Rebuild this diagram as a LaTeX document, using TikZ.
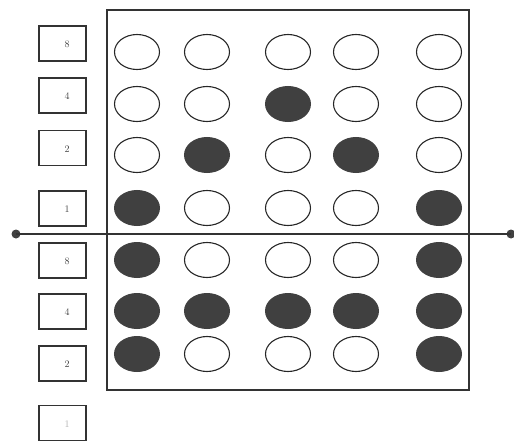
\documentclass[tikz,border=0pt]{standalone}
\usetikzlibrary{shapes.geometric}
\begin{document}
\begin{tikzpicture}[x=1pt,y=-1pt,
  lbox/.style={draw=black!80,line width=1.2pt,minimum width=47pt,minimum height=35pt,inner sep=0pt},
  ltxt/.style={font=\fontsize{10}{11}\selectfont,text=black!75},
  hole/.style={ellipse,draw=black!85,line width=1.1pt,minimum width=45pt,minimum height=35pt,inner sep=0pt,fill=white},
  punch/.style={ellipse,draw=black!75,line width=1pt,minimum width=45pt,minimum height=35pt,inner sep=0pt,fill=black!75},
  dotend/.style={circle,fill=black!75,minimum size=9pt,inner sep=0pt}]
\useasboundingbox (0,0) rectangle (514,444);
% frame
\node[draw=black!80,line width=1.2pt,minimum width=362pt,minimum height=380pt,inner sep=0pt] (frame) at (288,200) {};
% label boxes
\foreach \n/\y/\t/\c in {b1/43.5/8/75,b2/95.5/4/75,b3/148/2/75,b4/208.5/1/75,b5/260.5/8/75,b6/311.5/4/75,b7/363.5/2/75,b8/423/1/30}{
  \node[lbox] (\n) at (62.5,\y) {};
  \node[ltxt,text=black!\c] (\n t) at (67,\y+1) {\t};
}
% rows of ellipses
\foreach \r/\y/\pat in {1/52/{0,0,0,0,0},2/104/{0,0,1,0,0},3/155/{0,1,0,1,0},4/208/{1,0,0,0,1},5/260/{1,0,0,0,1},6/311/{1,1,1,1,1},7/354/{1,0,0,0,1}}{
  \foreach \s [count=\c] in \pat {
    \pgfmathsetmacro{\xx}{{137,207,288,356,439}[\c-1]}
    \ifnum\s=1
      \node[punch] (e\r\c) at (\xx,\y) {};
    \else
      \node[hole] (e\r\c) at (\xx,\y) {};
    \fi
  }
}
% horizontal line
\node[dotend] (dl) at (16,234) {};
\node[dotend] (dr) at (511,234) {};
\draw[black!80,line width=1.1pt] (dl.center) -- (dr.center);
\end{tikzpicture}
\end{document}
